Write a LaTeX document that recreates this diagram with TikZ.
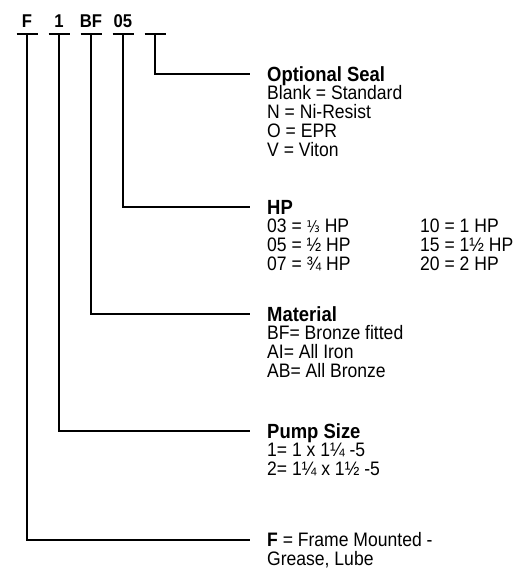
\documentclass[tikz,border=0pt]{standalone}
\usepackage{fontspec}
\setmainfont{Liberation Sans}[FakeStretch=0.9]
\newfontfamily\fracfont{DejaVu Sans}[FakeStretch=0.85]
\begin{document}
\begin{tikzpicture}[x=1pt,y=-1pt,
  conn/.style={line width=1.7pt},
  hdr/.style={font=\fontsize{18.5}{20}\selectfont\bfseries, anchor=base, inner sep=0pt},
  ttl/.style={font=\fontsize{20.5}{20}\selectfont\bfseries, anchor=base west, inner sep=0pt},
  txt/.style={font=\fontsize{19.5}{20}\selectfont, anchor=base west, inner sep=0pt}]
\useasboundingbox (0,0) rectangle (523,571);
% header letters
\node[hdr] (hF) at (27,27) {F};
\node[hdr] (h1) at (59,27) {1};
\node[hdr] (hBF) at (91,27) {BF};
\node[hdr] (h05) at (123,27) {05};
% bars
\foreach \n/\x in {bF/27,b1/59,bBF/91,b05/123,bS/155}{
  \coordinate (\n) at (\x,34);
  \draw[conn] ([xshift=-10.5pt]\n) -- ([xshift=10.5pt]\n);
}
% line ends
\coordinate (eS) at (250,74);
\coordinate (eHP) at (250,207);
\coordinate (eM) at (250,314);
\coordinate (eP) at (250,431);
\coordinate (eF) at (250,540);
\draw[conn] (bS) |- (eS);
\draw[conn] (b05) |- (eHP);
\draw[conn] (bBF) |- (eM);
\draw[conn] (b1) |- (eP);
\draw[conn] (bF) |- (eF);
% Optional seal
\node[ttl] (tS) at (267,81) {Optional Seal};
\node[txt] (s1) at (267,99.5) {Blank = Standard};
\node[txt] (s2) at (267,118.5) {N = Ni-Resist};
\node[txt] (s3) at (267,137.5) {O = EPR};
\node[txt] (s4) at (267,156.5) {V = Viton};
% HP
\node[ttl] (tHP) at (267,214) {HP};
\node[txt] (p1) at (267,232.5) {03 = {\fracfont\fontsize{16}{18}\selectfont ⅓} HP};
\node[txt] (p2) at (267,251.5) {05 = ½ HP};
\node[txt] (p3) at (267,270.5) {07 = ¾ HP};
\node[txt] (q1) at (420,232.5) {10 = 1 HP};
\node[txt] (q2) at (420,251.5) {15 = 1½ HP};
\node[txt] (q3) at (420,270.5) {20 = 2 HP};
% Material
\node[ttl] (tM) at (267,321) {Material};
\node[txt] (m1) at (267,339.5) {BF= Bronze fitted};
\node[txt] (m2) at (267,358.5) {AI= All Iron};
\node[txt] (m3) at (267,377.5) {AB= All Bronze};
% Pump size
\node[ttl] (tP) at (267,438) {Pump Size};
\node[txt] (z1) at (267,456.5) {1= 1 x 1¼ -5};
\node[txt] (z2) at (267,475.5) {2= 1¼ x 1½ -5};
% Frame
\node[txt] (f1) at (267,546.5) {\textbf{F} = Frame Mounted -};
\node[txt] (f2) at (267,565.5) {Grease, Lube};
\end{tikzpicture}
\end{document}
